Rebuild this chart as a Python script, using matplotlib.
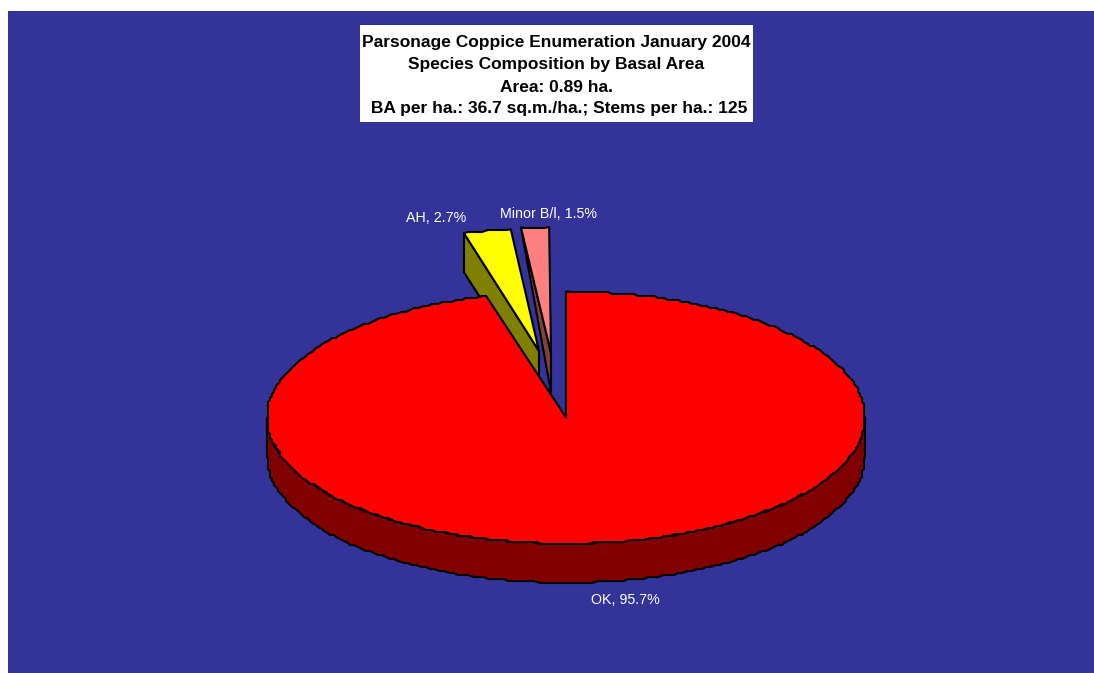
import numpy as np
import matplotlib
matplotlib.use("Agg")
import matplotlib.pyplot as plt
from matplotlib.patches import Polygon, Rectangle

plt.rcParams['font.family'] = ['Liberation Sans', 'DejaVu Sans']

# Data
species = ["OK", "AH", "Minor B/l"]
shares = [95.7, 2.7, 1.5]
top_colors = ["#FF0000", "#FFFF00", "#FF8080"]
side_colors = ["#800000", "#808000", "#804040"]
title_lines = [
    "Parsonage Coppice Enumeration January 2004",
    "Species Composition by Basal Area",
    "Area: 0.89 ha.",
    " BA per ha.: 36.7 sq.m./ha.; Stems per ha.: 125",
]

W, H = 1094, 673
LEFT, TOP = 8, 11
fig = plt.figure(figsize=(W / 100, H / 100), dpi=100, facecolor="white")
ax = fig.add_axes([LEFT / W, 0, (W - LEFT) / W, (H - TOP) / H], facecolor="#333399")
ax.set_xlim(LEFT, W)
ax.set_ylim(H, TOP)
ax.set_xticks([])
ax.set_yticks([])
for s in ax.spines.values():
    s.set_visible(False)

# Pie geometry in image pixels
CX, CY, RX, RY, DEPTH = 566, 417.5, 299, 126, 39
offsets = [(0, 0), (-27, -66.5), (-15, -64.5)]
scales = [(1, 1), (0.94, 0.97), (1, 1)]
outer_wall = [DEPTH, DEPTH, 0]
label_pos = [(625, 600), (436, 218), (549, 214)]
LW = 1.5
GRID = 2.0


def ellipse_pts(a0, a1, dx, dy, sx, sy):
    n = max(2, int(round((a1 - a0) / 1.0)) + 1)
    t = np.radians(np.linspace(a0, a1, n))
    x = CX + dx + sx * RX * np.sin(t)
    y = CY + dy - sy * RY * np.cos(t)
    # coarse device grid of the original renderer: stepped outline
    xr = np.round(x / GRID) * GRID
    yr = np.round(y / GRID) * GRID
    xr[[0, -1]] = x[[0, -1]]
    yr[[0, -1]] = y[[0, -1]]
    return xr, yr


def draw_wedge(a0, a1, dx, dy, sx, sy, wall_d, top, side, z):
    x, y = ellipse_pts(a0, a1, dx, dy, sx, sy)
    ax_, ay_ = CX + dx, CY + dy
    lo, hi = max(a0, 90), min(a1, 270)
    if hi > lo:
        rx, ry = ellipse_pts(lo, hi, dx, dy, sx, sy)
        rim = np.r_[np.c_[rx, ry], np.c_[rx[::-1], ry[::-1] + DEPTH]]
        ax.add_patch(Polygon(rim, closed=True, fc=side, ec="black", lw=LW, zorder=z, joinstyle="round"))
    if a1 - a0 < 90:
        wall = [(x[0], y[0]), (x[0], y[0] + wall_d), (ax_, ay_ + DEPTH), (ax_, ay_)]
        ax.add_patch(Polygon(wall, closed=True, fc=side, ec="black", lw=LW, zorder=z, joinstyle="round"))
    pts = np.r_[[[ax_, ay_]], np.c_[x, y]]
    ax.add_patch(Polygon(pts, closed=True, fc=top, ec="black", lw=LW, zorder=z + 0.5, joinstyle="round"))


total = 100.0
angle = 0.0
spans = []
for v in shares:
    spans.append((angle, angle + v / total * 360))
    angle += v / total * 360

# Back slices first, the big slice on top
order = [1, 2, 0]
for z, i in enumerate(order):
    a0, a1 = spans[i]
    draw_wedge(a0, a1, offsets[i][0], offsets[i][1], scales[i][0], scales[i][1],
               outer_wall[i], top_colors[i], side_colors[i], 2 + z)

for name, v, (lx, ly) in zip(species, shares, label_pos):
    ax.text(lx, ly, f"{name}, {v}%", color="white", fontsize=10.3, ha="center", va="center", zorder=10)

# Title box
ax.add_patch(Rectangle((360, 25), 393, 97, fc="white", ec="none", zorder=10))
for line, y in zip(title_lines, [42, 64, 87, 109]):
    ax.text(556.5, y, line, color="black", fontsize=12.5, fontweight="bold", ha="center", va="center", zorder=11)

fig.savefig("out.png", dpi=100, facecolor=fig.get_facecolor())
